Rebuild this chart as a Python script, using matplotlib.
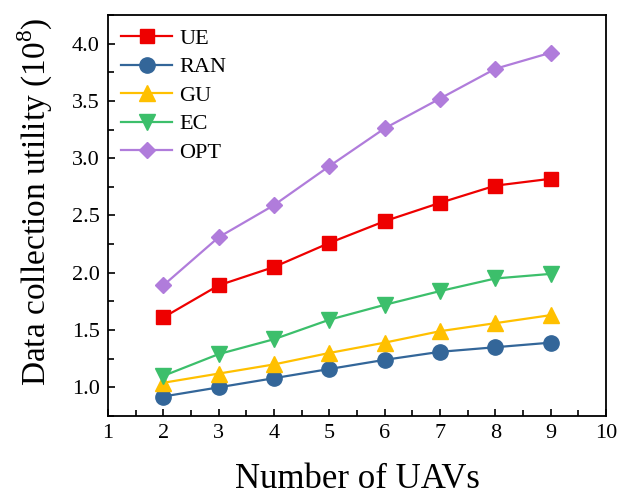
import matplotlib
matplotlib.use("Agg")
import matplotlib.pyplot as plt
from matplotlib.ticker import MultipleLocator

plt.rcParams["font.family"] = "serif"
plt.rcParams["font.serif"] = ["Liberation Serif", "DejaVu Serif"]
plt.rcParams["mathtext.fontset"] = "custom"
plt.rcParams["mathtext.rm"] = "Liberation Serif"

uavs = [2, 3, 4, 5, 6, 7, 8, 9]
ue = [1.61, 1.89, 2.05, 2.26, 2.45, 2.61, 2.76, 2.82]
ran = [0.92, 1.00, 1.08, 1.16, 1.24, 1.31, 1.35, 1.39]
gu = [1.04, 1.12, 1.20, 1.30, 1.39, 1.49, 1.56, 1.63]
ec = [1.10, 1.29, 1.42, 1.59, 1.72, 1.84, 1.95, 1.99]
opt = [1.89, 2.31, 2.59, 2.93, 3.26, 3.52, 3.78, 3.92]

fig = plt.figure(figsize=(6.19, 4.97), dpi=100)
ax = fig.add_axes([0.1745, 0.163, 0.8045, 0.807])

ax.plot(uavs, ue, '-s', color='#EE0000', ms=10, lw=1.6, label='UE')
ax.plot(uavs, ran, '-o', color='#336699', ms=11, lw=1.6, label='RAN')
ax.plot(uavs, gu, '-^', color='#FFC000', ms=11, lw=1.6, label='GU')
ax.plot(uavs, ec, '-v', color='#3CBF6B', ms=11, lw=1.6, label='EC')
ax.plot(uavs, opt, '-D', color='#B07CDB', ms=8, lw=1.6, label='OPT')

ax.set_xlim(1, 10)
ax.set_ylim(0.75, 4.25)
ax.xaxis.set_major_locator(MultipleLocator(1))
ax.xaxis.set_minor_locator(MultipleLocator(0.5))
ax.yaxis.set_major_locator(MultipleLocator(0.5))
ax.yaxis.set_minor_locator(MultipleLocator(0.25))
ax.yaxis.set_major_formatter(matplotlib.ticker.FormatStrFormatter('%.1f'))
ax.tick_params(which='both', direction='in', labelsize=16, width=1.2)
ax.tick_params(which='major', length=5, pad=6)
ax.tick_params(which='minor', length=4)
for s in ax.spines.values():
    s.set_linewidth(1.3)

ax.set_xlabel('Number of UAVs', fontsize=25, labelpad=14)
ax.set_ylabel('Data collection utility (10$^{8}$)', fontsize=24)
ax.yaxis.set_label_coords(-0.107, 0.535)

ax.legend(loc='upper left', frameon=False, fontsize=16, handlelength=2.3,
          labelspacing=0.36, handletextpad=0.3, borderaxespad=0.3,
          borderpad=0.3)

fig.savefig('out.png', dpi=100)
